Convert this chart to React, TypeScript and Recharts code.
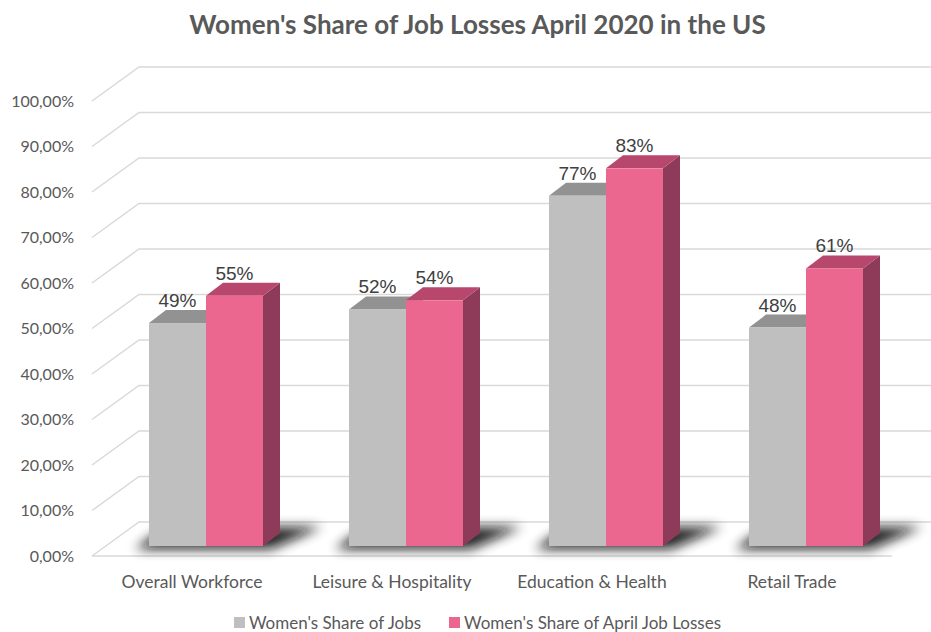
import React from 'react';
import { BarChart, Bar, XAxis, YAxis, CartesianGrid, LabelList } from 'recharts';

const categories = ['Overall Workforce', 'Leisure & Hospitality', 'Education & Health', 'Retail Trade'];
const shareOfJobs = [49, 52, 77, 48];
const shareOfLosses = [55, 54, 83, 61];
const yTicks = [0, 10, 20, 30, 40, 50, 60, 70, 80, 90, 100];

const series = [
  { key: 'jobs', name: "Women's Share of Jobs", front: '#bfbfbf', top: '#929292', side: '#8a8a8a' },
  { key: 'losses', name: "Women's Share of April Job Losses", front: '#ec6790', top: '#b7476d', side: '#8d3b59' },
];

const data = categories.map((name, i) => ({ name, jobs: shareOfJobs[i], losses: shareOfLosses[i] }));

// depth offsets for the fake 3d look
const DX = 17;
const DY = 13;
const GRID_BACK = -24;
const GRID_FRONT = 10;

const makeBar = (s: typeof series[number], withShadow: boolean) => (props: any) => {
  const { x, y, width, height, index } = props;
  const base = y + height;
  return (
    <g>
      {withShadow && (
        <g>
          <defs>
            <filter id={`blur-${index}`} x="-50%" y="-200%" width="200%" height="500%">
              <feGaussianBlur stdDeviation="6" />
            </filter>
          </defs>
          <polygon
            points={`${x - 14},${base + 3} ${x + 2 * width + 8},${base + 3} ${x + 2 * width + DX + 42},${base - DY - 6} ${x + DX},${base - DY - 6}`}
            fill="#111"
            opacity={0.9}
            filter={`url(#blur-${index})`}
          />
        </g>
      )}
      <polygon
        points={`${x + width},${y} ${x + width + DX},${y - DY} ${x + width + DX},${base - DY} ${x + width},${base}`}
        fill={s.side}
      />
      <polygon
        points={`${x},${y} ${x + DX},${y - DY} ${x + width + DX},${y - DY} ${x + width},${y}`}
        fill={s.top}
      />
      <rect x={x} y={y} width={width} height={height} fill={s.front} />
    </g>
  );
};

const gridLine = (props: any) => {
  const { y1, index } = props;
  const isFloor = y1 > 540;
  return (
    <g key={`grid-${index}`}>
      <polyline
        points={`92,${y1 + GRID_FRONT} 139,${y1 + GRID_BACK} 931,${y1 + GRID_BACK}`}
        fill="none"
        stroke="#d9d9d9"
        strokeWidth={1.5}
      />
      {isFloor && (
        <line x1={92} y1={y1 + GRID_FRONT} x2={892} y2={y1 + GRID_FRONT} stroke="#d9d9d9" strokeWidth={1.5} />
      )}
    </g>
  );
};

const YTick = (props: any) => {
  const { y, payload } = props;
  return (
    <text x={74} y={y + GRID_FRONT} dy="0.35em" textAnchor="end" fill="#595959" fontSize={16} fontFamily="Lato">
      {`${payload.value},00%`}
    </text>
  );
};

const XTick = (props: any) => {
  const { x, payload } = props;
  return (
    <text x={x - 14} y={582} dy="0.35em" textAnchor="middle" fill="#595959" fontSize={17.5} fontFamily="Lato">
      {payload.value}
    </text>
  );
};

export default function App() {
  return (
    <div style={{ position: 'relative', width: 931, height: 632, background: '#fff' }}>
      <style>{`body{margin:0}`}</style>
      <div
        style={{
          position: 'absolute', top: 8, left: 0, width: 931, textAlign: 'center', boxSizing: 'border-box',
          fontFamily: 'Lato', fontWeight: 700, fontSize: 26, color: '#595959', paddingLeft: 24,
        }}
      >
        Women's Share of Job Losses April 2020 in the US
      </div>
      <BarChart
        width={931}
        height={632}
        data={data}
        margin={{ top: 91, right: 25, bottom: 56, left: 0 }}
        barGap={0}
        barSize={57}
      >
        <CartesianGrid horizontal={gridLine} vertical={false} />
        <XAxis dataKey="name" height={30} axisLine={false} tickLine={false} tick={<XTick />} />
        <YAxis
          width={106}
          domain={[0, 100]}
          ticks={yTicks}
          axisLine={false}
          tickLine={false}
          tick={<YTick />}
        />
        <Bar dataKey="jobs" name={series[0].name} fill={series[0].front} shape={makeBar(series[0], true)} isAnimationActive={false}>
          <LabelList dataKey="jobs" position="top" offset={16} formatter={(v: any) => `${v}%`} fill="#404040" fontSize={19} fontFamily="Liberation Sans" />
        </Bar>
        <Bar dataKey="losses" name={series[1].name} fill={series[1].front} shape={makeBar(series[1], false)} isAnimationActive={false}>
          <LabelList dataKey="losses" position="top" offset={16} formatter={(v: any) => `${v}%`} fill="#404040" fontSize={19} fontFamily="Liberation Sans" />
        </Bar>
      </BarChart>
      <div
        style={{
          position: 'absolute', top: 612, left: 0, width: 931, display: 'flex', justifyContent: 'center',
          boxSizing: 'border-box', gap: 28, fontFamily: 'Lato', fontSize: 17, color: '#595959', paddingLeft: 24,
        }}
      >
        {series.map((s) => (
          <div key={s.key} style={{ display: 'flex', alignItems: 'center' }}>
            <span style={{ display: 'inline-block', width: 11, height: 11, background: s.front, marginRight: 4 }} />
            {s.name}
          </div>
        ))}
      </div>
    </div>
  );
}
